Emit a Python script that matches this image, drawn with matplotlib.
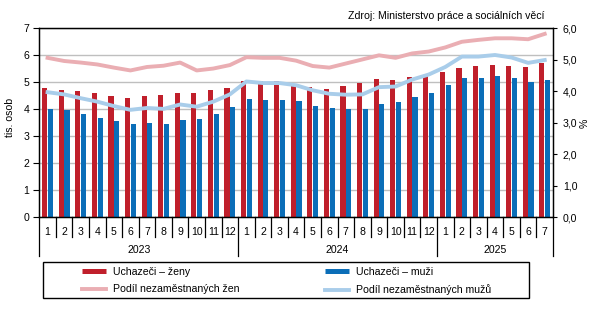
import numpy as np
import matplotlib
matplotlib.use("Agg")
import matplotlib.pyplot as plt
from matplotlib.patches import Rectangle
from matplotlib.lines import Line2D

plt.rcParams["font.family"] = ["Liberation Sans", "DejaVu Sans"]
plt.rcParams["font.size"] = 7.6

# data
years = ["2023", "2024", "2025"]
months = [str(m) for m in range(1, 13)] * 2 + [str(m) for m in range(1, 8)]
uchazeci_zeny = [4.79, 4.71, 4.68, 4.60, 4.49, 4.42, 4.49, 4.53, 4.60, 4.60, 4.71, 4.79,
                 5.06, 5.06, 5.06, 4.94, 4.82, 4.74, 4.86, 4.96, 5.11, 5.09, 5.21, 5.23,
                 5.38, 5.53, 5.60, 5.64, 5.60, 5.58, 5.72]
uchazeci_muzi = [4.02, 3.99, 3.83, 3.69, 3.57, 3.46, 3.49, 3.46, 3.61, 3.65, 3.83, 4.08,
                 4.38, 4.34, 4.34, 4.31, 4.12, 4.04, 4.01, 4.01, 4.20, 4.27, 4.46, 4.60,
                 4.90, 5.17, 5.17, 5.23, 5.17, 5.01, 5.08]
podil_zen = [5.06, 4.96, 4.91, 4.85, 4.75, 4.66, 4.77, 4.81, 4.91, 4.66, 4.72, 4.83,
             5.08, 5.06, 5.06, 4.97, 4.80, 4.75, 4.88, 5.01, 5.14, 5.06, 5.20, 5.26,
             5.39, 5.57, 5.63, 5.68, 5.68, 5.65, 5.82]
podil_muzu = [3.97, 3.90, 3.78, 3.67, 3.53, 3.41, 3.47, 3.44, 3.58, 3.51, 3.67, 3.90,
              4.31, 4.26, 4.26, 4.19, 4.03, 3.92, 3.89, 3.90, 4.13, 4.15, 4.37, 4.53,
              4.77, 5.10, 5.10, 5.15, 5.07, 4.90, 4.99]
months_per_year = [12, 12, 7]

c_red = "#C01F2B"
c_blue = "#0B6EB8"
c_pink = "#EAAEB3"
c_lblue = "#A9CDEA"

fig = plt.figure(figsize=(5.97, 3.10), dpi=100)
ax = fig.add_axes([0.0658, 0.299, 0.8605, 0.610])

n = len(months)
x = np.arange(n)
ax.bar(x - 0.17, uchazeci_zeny, width=0.31, color=c_red, zorder=2)
ax.bar(x + 0.17, uchazeci_muzi, width=0.31, color=c_blue, zorder=2)
ax.set_xlim(-0.5, n - 0.5)
ax.set_ylim(0, 7)
ax.set_yticks(range(8))
ax.yaxis.grid(True, color="#bfbfbf", lw=1)
ax.set_axisbelow(True)
ax.tick_params(axis="y", direction="out", length=4, width=0.8, pad=3)
ax.set_xticks(x, labels=months)
ax.tick_params(axis="x", length=0, pad=7)
for s in ax.spines.values():
    s.set_color("black")
    s.set_linewidth(0.9)

ax2 = ax.twinx()
ax2.plot(x, podil_zen, color=c_pink, lw=2.8, zorder=3)
ax2.plot(x, podil_muzu, color=c_lblue, lw=2.8, zorder=3)
ax2.set_ylim(0, 6)
ax2.set_yticks(range(7))
ax2.set_yticklabels([f"{v:.1f}".replace(".", ",") for v in range(7)])
ax2.tick_params(axis="y", direction="out", length=3, width=0.8, pad=4)
for s in ax2.spines.values():
    s.set_color("black")
    s.set_linewidth(0.9)

# month / year separators under the axis
trans = ax.get_xaxis_transform()
edges = np.cumsum([0] + months_per_year) - 0.5
for k in range(n + 1):
    b = k - 0.5
    depth = -0.206 if b in edges else -0.106
    ax.plot([b, b], [0, depth], color="black", lw=0.9, transform=trans, clip_on=False)
for i, yr in enumerate(years):
    ax.text((edges[i] + edges[i + 1]) / 2, -0.172, yr, transform=trans,
            ha="center", va="center")

fig.text(10 / 597, 0.62, "tis. osob", rotation=90, ha="center", va="center")
fig.text(585 / 597, 1 - 123 / 310, "%", rotation=90, ha="center", va="center")
fig.text(545 / 597, 1 - 16 / 310, "Zdroj: Ministerstvo práce a sociálních věcí",
         ha="right", va="center")

# legend
fig.add_artist(Rectangle((43 / 597, 1 - 298 / 310), 486 / 597, 36 / 310,
                         transform=fig.transFigure, fill=False, ec="black", lw=1))
h_red = Line2D([], [], color=c_red, lw=3.6, solid_capstyle="butt")
h_blue = Line2D([], [], color=c_blue, lw=3.6, solid_capstyle="butt")
h_pink = Line2D([], [], color=c_pink, lw=2.8)
h_lblue = Line2D([], [], color=c_lblue, lw=2.8)
kw = dict(loc="upper left", frameon=False, borderpad=0, borderaxespad=0,
          handlelength=2.3, handletextpad=0.6, labelspacing=0.7)
fig.legend([h_red, h_pink], ["Uchazeči – ženy", "Podíl nezaměstnaných žen"],
           bbox_to_anchor=(82 / 597, 1 - 267 / 310), **kw)
fig.legend([h_blue, h_lblue], ["Uchazeči – muži", "Podíl nezaměstnaných mužů"],
           bbox_to_anchor=(325 / 597, 1 - 267 / 310), **kw)

fig.savefig("out.png", dpi=100)
